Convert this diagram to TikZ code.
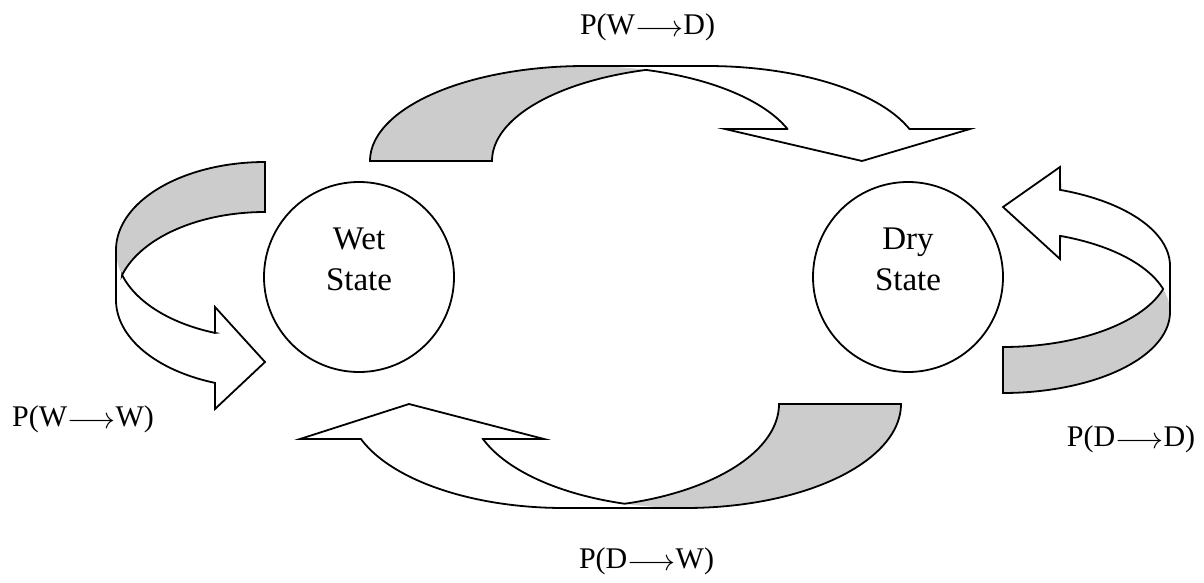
\RequirePackage{fix-cm}
\documentclass[tikz,border=0pt]{standalone}
\usepackage{fontspec}
\setmainfont{Liberation Serif}
\definecolor{backgray}{RGB}{204,204,204}
% transition label: P(a -> b) with a long arrow
\newcommand{\trans}[2]{P(#1\raisebox{-2pt}{$\longrightarrow$}#2)}
\tikzset{
  % elliptical arc: centre (#1,#2), radii #3/#4, angles #5 -> #6
  earc/.style n args={6}{insert path={-- plot[domain=#5:#6, samples=60, variable=\t] ({#1+#3*cos(\t)}, {#2+#4*sin(\t)})}},
  bandfill/.style={fill=white},
  backfill/.style={fill=backgray},
  bandline/.style={draw=black, line width=1.8pt, line join=miter},
  statecircle/.style={circle, draw=black, line width=1.8pt, fill=white, minimum size=190pt, inner sep=0pt},
  statetext/.style={align=center, font=\fontsize{33}{41}\selectfont, inner sep=0pt},
  problabel/.style={anchor=base, font=\fontsize{30}{36}\selectfont, inner sep=0pt}
}
\begin{document}
\begin{tikzpicture}[x=1pt, y=-1pt]
\useasboundingbox (0,0) rectangle (1204,583);
\fill[white] (0,0) rectangle (1204,583);

% ---- states ----
\node[statecircle] (wet) at (359,277) {};
\node[statecircle] (dry) at (908,277) {};
\node[statetext] (wetlabel) at (359,259.6) {Wet\\State};
\node[statetext] (drylabel) at (908,259.6) {Dry\\State};

% ---- arrow W -> D (over the top) ----
\path[bandfill] (370,161) [earc={585}{161}{215}{95}{180}{270}] -- (707,66)
  [earc={707}{161}{215}{95}{270}{340.3}] -- (970,129) -- (862,161) -- (725,129) -- (787.4,129)
  [earc={585}{161}{215}{95}{340.3}{286.4}] [earc={707}{161}{215}{95}{253.5}{180}] -- cycle;
\path[backfill] (370,161) [earc={585}{161}{215}{95}{180}{270}] [earc={585}{161}{215}{95}{270}{286.4}]
  [earc={707}{161}{215}{95}{253.5}{180}] -- cycle;
\path[bandline] (370,161) [earc={585}{161}{215}{95}{180}{270}] -- (707,66)
  [earc={707}{161}{215}{95}{270}{340.3}] -- (970,129) -- (862,161) -- (725,129) -- (787.4,129)
  [earc={585}{161}{215}{95}{340.3}{286.4}] [earc={707}{161}{215}{95}{253.5}{180}] -- cycle;

% ---- arrow W -> W (loop on the left) ----
\path[bandfill] (265,162) [earc={265}{250}{149}{88}{270}{180}] -- (116,300)
  [earc={265}{300}{149}{88}{180}{109.6}] -- (215,409) -- (265,362) -- (215,307) -- (215,332.9)
  [earc={265}{250}{149}{88}{109.6}{163.5}] [earc={265}{300}{149}{88}{196.5}{270}] -- cycle;
\path[backfill] (265,162) [earc={265}{250}{149}{88}{270}{180}] [earc={265}{250}{149}{88}{180}{163.5}]
  [earc={265}{300}{149}{88}{196.5}{270}] -- cycle;
\path[bandline] (265,162) [earc={265}{250}{149}{88}{270}{180}] -- (116,300)
  [earc={265}{300}{149}{88}{180}{109.6}] -- (215,409) -- (265,362) -- (215,307) -- (215,332.9)
  [earc={265}{250}{149}{88}{109.6}{163.5}] [earc={265}{300}{149}{88}{196.5}{270}] -- cycle;

% ---- arrow D -> D (loop on the right) ----
\path[bandfill] (1003,393) [earc={1003}{312}{167}{81}{90}{0}] -- (1170,266)
  [earc={1003}{266}{167}{81}{0}{-70}] -- (1060,167) -- (1003,207) -- (1060,259) -- (1060.1,235.9)
  [earc={1003}{312}{167}{81}{-70}{-16.5}] [earc={1003}{266}{167}{81}{16.5}{90}] -- cycle;
\path[backfill] (1003,393) [earc={1003}{312}{167}{81}{90}{0}] [earc={1003}{312}{167}{81}{0}{-16.5}]
  [earc={1003}{266}{167}{81}{16.5}{90}] -- cycle;
\path[bandline] (1003,393) [earc={1003}{312}{167}{81}{90}{0}] -- (1170,266)
  [earc={1003}{266}{167}{81}{0}{-70}] -- (1060,167) -- (1003,207) -- (1060,259) -- (1060.1,235.9)
  [earc={1003}{312}{167}{81}{-70}{-16.5}] [earc={1003}{266}{167}{81}{16.5}{90}] -- cycle;

% ---- arrow D -> W (under the bottom) ----
\path[bandfill] (901,404) [earc={685.7}{404}{215.3}{104}{0}{90}] -- (563.7,508)
  [earc={563.7}{404}{215.3}{104}{90}{160.33}] -- (300,439) -- (409,404) -- (544,439) -- (483,439)
  [earc={685.7}{404}{215.3}{104}{160.33}{106.46}] [earc={563.7}{404}{215.3}{104}{73.54}{0}] -- cycle;
\path[backfill] (901,404) [earc={685.7}{404}{215.3}{104}{0}{90}] [earc={685.7}{404}{215.3}{104}{90}{106.46}]
  [earc={563.7}{404}{215.3}{104}{73.54}{0}] -- cycle;
\path[bandline] (901,404) [earc={685.7}{404}{215.3}{104}{0}{90}] -- (563.7,508)
  [earc={563.7}{404}{215.3}{104}{90}{160.33}] -- (300,439) -- (409,404) -- (544,439) -- (483,439)
  [earc={685.7}{404}{215.3}{104}{160.33}{106.46}] [earc={563.7}{404}{215.3}{104}{73.54}{0}] -- cycle;

% ---- transition probabilities ----
\node[problabel] (pwd) at (647.5,34.5) {\trans{W}{D}};
\node[problabel] (pww) at (83,426) {\trans{W}{W}};
\node[problabel] (pdd) at (1131,446) {\trans{D}{D}};
\node[problabel] (pdw) at (646.5,568) {\trans{D}{W}};
\end{tikzpicture}
\end{document}
